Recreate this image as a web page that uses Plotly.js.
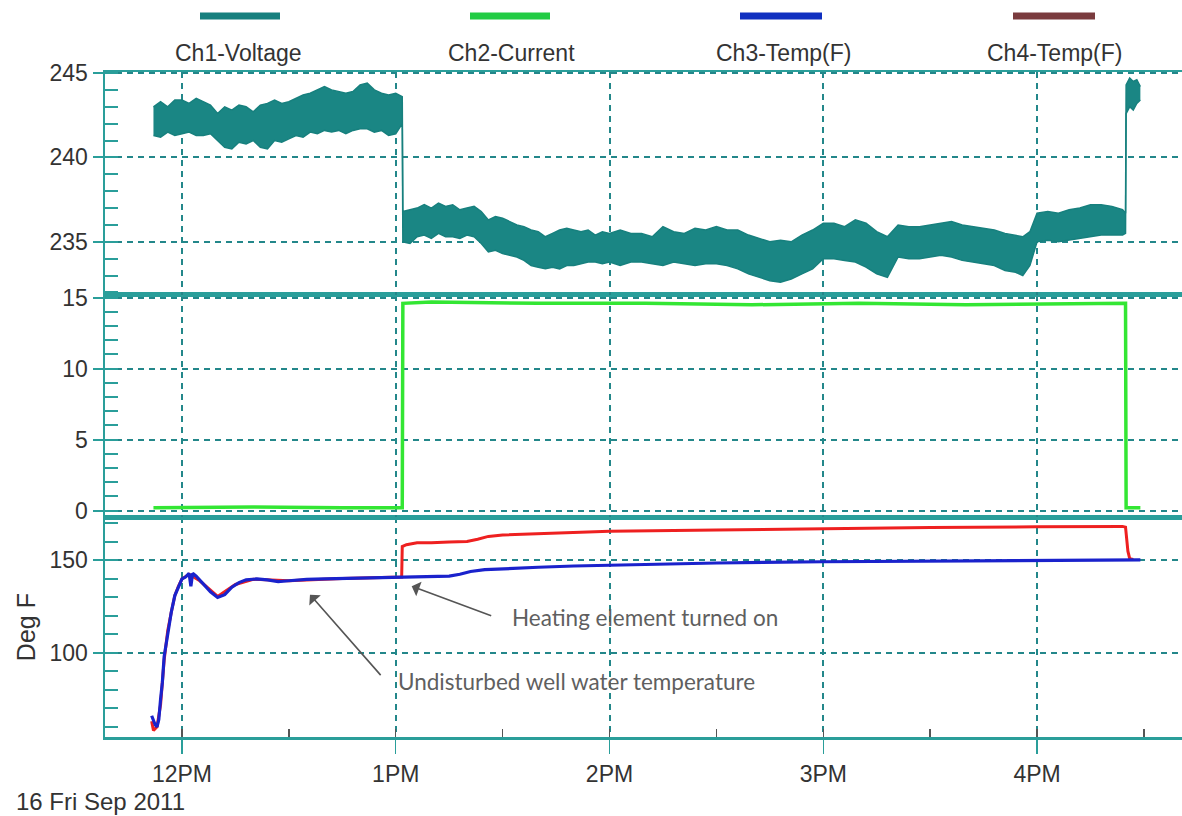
<!DOCTYPE html>
<html><head><meta charset="utf-8">
<script src="https://cdn.plot.ly/plotly-3.0.1.min.js"></script>
<style>html,body{margin:0;padding:0;background:#fff;}#chart{width:1182px;height:816px;}</style>
</head><body><div id="chart"></div>
<script>
const DAY = '2011-09-16 ';
const channelNames = ['Ch1-Voltage', 'Ch2-Current', 'Ch3-Temp(F)', 'Ch4-Temp(F)'];
const channelColors = ['#17807e', '#22cc44', '#1030c0', '#7a3b3e'];

// Ch1 voltage: the trace is a dense noisy band, read as upper / lower envelope
const voltTimes = ['11:52','11:54','11:56','11:58','12:00','12:02','12:04','12:06','12:08','12:10','12:12','12:14','12:16','12:18','12:20','12:22','12:24','12:26','12:28','12:30','12:32','12:34','12:36','12:38','12:40','12:42','12:44','12:46','12:48','12:50','12:52','12:54','12:56','12:58','13:00','13:01:50',
 '13:02','13:04','13:06','13:08','13:10','13:12','13:14','13:16','13:18','13:20','13:22','13:24','13:26','13:28','13:30','13:32','13:34','13:36','13:38','13:40','13:42','13:44','13:46','13:48','13:50','13:52','13:54','13:56','13:58','14:00','14:03','14:06','14:09','14:12','14:15','14:18','14:21','14:24','14:27','14:30','14:33','14:36','14:39','14:42','14:45','14:48','14:51','14:54','14:57','15:00','15:03','15:06','15:09','15:12','15:15','15:18','15:21','15:24','15:27','15:30','15:33','15:36','15:39','15:42','15:45','15:48','15:51','15:54','15:56','15:58','16:00','16:03','16:06','16:09','16:12','16:15','16:18','16:21','16:24','16:24:50',
 '16:25','16:26','16:27','16:28','16:29'];
const voltUpper = [243.0,243.3,243.0,243.4,243.4,243.2,243.5,243.3,243.1,242.6,243.0,242.8,243.1,243.0,242.7,243.1,243.2,243.4,243.2,243.3,243.5,243.7,243.8,244.0,244.2,244.0,243.9,243.8,243.9,244.3,244.4,244.0,243.8,243.7,243.8,243.6,
 236.8,236.9,237.0,237.2,237.0,237.3,237.1,237.2,236.9,237.0,237.1,236.8,236.3,236.5,236.4,236.2,236.0,235.9,235.7,235.6,235.3,235.5,235.7,235.8,235.7,235.6,235.7,235.4,235.6,235.5,235.7,235.5,235.5,235.3,235.9,235.6,235.5,235.8,235.7,235.9,235.7,235.7,235.4,235.2,235.0,235.1,235.0,235.4,235.7,236.1,236.1,235.9,236.3,236.1,235.6,235.3,236.0,235.9,235.9,236.0,236.1,236.2,236.0,235.9,235.8,235.7,235.5,235.4,235.3,235.6,236.7,236.8,236.7,236.9,237.0,237.2,237.2,237.1,236.9,236.7,
 244.3,244.7,244.5,244.6,244.2];
const voltLower = [241.3,241.2,241.5,241.3,241.4,241.5,241.3,241.3,241.4,241.0,240.6,240.5,240.9,240.8,241.0,240.6,240.5,241.0,240.9,241.1,241.3,241.2,241.5,241.4,241.6,241.5,241.6,241.4,241.6,241.7,241.7,241.5,241.6,241.3,241.4,242.0,
 235.0,234.9,235.3,235.4,235.2,235.5,235.3,235.3,235.2,235.4,235.3,234.9,234.4,234.5,234.3,234.2,234.1,233.9,233.6,233.5,233.4,233.5,233.4,233.6,233.6,233.7,233.8,233.8,233.7,233.8,233.6,233.8,233.8,233.7,233.6,233.8,233.7,233.6,233.7,233.7,233.6,233.4,233.1,232.9,232.7,232.6,232.8,233.1,233.4,234.0,234.0,233.9,233.8,233.5,233.1,232.9,234.1,234.0,234.0,234.1,234.2,234.1,233.9,233.8,233.7,233.6,233.3,233.2,233.0,233.6,235.0,235.1,235.0,235.1,235.2,235.3,235.4,235.4,235.4,235.5,
 242.6,243.0,242.8,243.2,243.4];

// Ch2 current (A)
const currTimes = ['11:52','12:20','12:45','13:01:50','13:02','13:10','13:40','14:10','14:40','15:10','15:40','16:10','16:24:50','16:25','16:29'];
const currValues = [0.2,0.25,0.2,0.2,14.6,14.7,14.6,14.6,14.5,14.6,14.5,14.6,14.6,0.2,0.2];

// Ch3 temperature (blue)
const ch3Times = ['11:51:30','11:52','11:52:30','11:53','11:53:30','11:54','11:54:30','11:55','11:55:30','11:56','11:57','11:58','11:59','12:00','12:01','12:02','12:02:30','12:03','12:04','12:06','12:08','12:10','12:12','12:14','12:16','12:18','12:21','12:24','12:27','12:30','12:35','12:40','12:45','12:50','12:55','13:00','13:05','13:10','13:15','13:18','13:21','13:25','13:30','13:40','13:50','14:00','14:15','14:30','15:00','15:30','16:00','16:25','16:29'];
const ch3Values = [66,63,61,60,64,75,84,98,104,112,122,131,136,140,141,143,136,143,141.5,137.5,133,130,131.5,135.5,138,139.5,140,139.5,138.5,139,139.8,140,140.2,140.5,140.8,141,140.8,141,141.5,142.5,144,145,145.5,146.3,147,147.5,148.2,148.6,149.3,149.6,150.2,150.5,150.3];

// Ch4 temperature (red)
const ch4Times = ['11:51:30','11:52','11:53','11:54','11:55','11:56','11:57','11:58','11:59','12:00','12:02','12:05','12:10','12:15','12:20','12:30','12:45','13:00','13:01:40','13:01:50','13:03','13:06','13:10','13:15','13:20','13:23','13:26','13:30','13:40','13:50','14:00','14:30','15:00','15:30','16:00','16:24','16:24:50','16:25:30','16:26','16:27'];
const ch4Values = [63,58,60,72,96,112,122,131,136,140,142.5,139,130.5,137,139.8,139,140.2,141,141,157.5,158.5,159.5,159.5,160,160.3,161.5,163,163.8,164.5,165.2,165.8,166.5,167.3,167.8,168.2,168.4,168,155,151,150.5];

const hourTicks = ['12:00','13:00','14:00','15:00','16:00'];
const hourLabels = ['12PM','1PM','2PM','3PM','4PM'];
const dateLabel = '16 Fri Sep 2011';
const tempTitle = 'Deg F';
const noteHeating = 'Heating element turned on';
const noteWell = 'Undisturbed well water temperature';

const X = a => a.map(t => DAY + t);

// ---- geometry ----
const W = 1182, H = 816, L = 105, R = 0, T = 72, B = 78.5;
const PW = W - L - R, PH = H - T - B;
const px = v => (v - L) / PW;
const py = v => (H - B - v) / PH;
const frame = '#2a9e9a', grid = '#23878a';
const FONT = 'Liberation Sans Narrow, Arial Narrow, Liberation Sans, Arial, sans-serif';
const tickFont = {family: FONT, size: 23, color: '#333'};

const traces = [
  {x: X(voltTimes), y: voltLower, xaxis: 'x3', yaxis: 'y', mode: 'lines', line: {color: channelColors[0], width: 1.5}, name: channelNames[0], showlegend: false, hoverinfo: 'skip'},
  {x: X(voltTimes), y: voltUpper, xaxis: 'x3', yaxis: 'y', mode: 'lines', line: {color: channelColors[0], width: 1.5}, fill: 'tonexty', fillcolor: '#1a8684', name: channelNames[0], showlegend: false},
  {x: X(currTimes), y: currValues, xaxis: 'x2', yaxis: 'y2', mode: 'lines', line: {color: '#33e633', width: 3.5}, name: channelNames[1], showlegend: false},
  {x: X(ch4Times), y: ch4Values, xaxis: 'x', yaxis: 'y3', mode: 'lines', line: {color: '#ee2020', width: 3}, name: channelNames[3], showlegend: false},
  {x: X(ch3Times), y: ch3Values, xaxis: 'x', yaxis: 'y3', mode: 'lines', line: {color: '#1a22cc', width: 3.2}, name: channelNames[2], showlegend: false}
];

const xRange = [DAY + '11:38:24', DAY + '16:40:41'];
const xBase = {
  type: 'date', range: xRange, showline: true, mirror: true, linecolor: frame, linewidth: 2.5,
  showgrid: true, gridcolor: grid, gridwidth: 2, griddash: '6px,5px',
  tickmode: 'array', tickvals: X(hourTicks), ticktext: hourLabels, zeroline: false
};
const yBase = {
  showline: true, linecolor: frame, linewidth: 2.5, showgrid: true, gridcolor: grid, gridwidth: 2,
  griddash: '6px,5px', zeroline: false, ticks: 'outside', ticklen: 10, tickcolor: frame, tickwidth: 2,
  tickfont: tickFont, fixedrange: true
};
const d1 = py(517.5), d2 = py(295);

const layout = {
  width: W, height: H, margin: {l: L, r: R, t: T, b: B}, paper_bgcolor: '#fff', plot_bgcolor: '#fff',
  showlegend: false,
  xaxis: Object.assign({}, xBase, {anchor: 'y3', ticks: 'outside', ticklen: 14, tickcolor: frame, tickwidth: 1.5,
    tickfont: tickFont, ticklabelstandoff: 1,
    minor: {ticks: 'inside', ticklen: 8, tickcolor: '#555', tickwidth: 1.5, dtick: 1800000, tick0: DAY + '00:00', showgrid: false}}),
  xaxis2: Object.assign({}, xBase, {anchor: 'y2', matches: 'x', showticklabels: false, ticks: ''}),
  xaxis3: Object.assign({}, xBase, {anchor: 'y', matches: 'x', showticklabels: false, ticks: ''}),
  yaxis: Object.assign({}, yBase, {domain: [d2, 1], range: [231.86, 245.06], tickvals: [235, 240, 245],
    minor: {ticks: 'inside', ticklen: 13, tickcolor: frame, tickwidth: 2, dtick: 1, showgrid: false}}),
  yaxis2: Object.assign({}, yBase, {domain: [d1, d2], range: [-0.46, 15.2], tickvals: [0, 5, 10, 15],
    minor: {ticks: 'inside', ticklen: 13, tickcolor: frame, tickwidth: 2, dtick: 1, showgrid: false}}),
  yaxis3: Object.assign({}, yBase, {domain: [0, d1], range: [54.5, 173.4], tickvals: [100, 150],
    title: {text: tempTitle, font: {family: FONT, size: 25, color: '#333'}, standoff: 7},
    minor: {ticks: 'inside', ticklen: 13, tickcolor: frame, tickwidth: 2, dtick: 10, showgrid: false}}),
  shapes: [],
  annotations: []
};

// custom legend: swatch on top, name underneath
const swatchX = [[200, 280], [470, 550], [740, 822], [1013, 1095]];
const labelX = [238, 511, 783, 1054];
channelNames.forEach((n, i) => {
  layout.shapes.push({type: 'line', xref: 'paper', yref: 'paper', x0: px(swatchX[i][0]), x1: px(swatchX[i][1]), y0: py(16), y1: py(16),
    line: {color: channelColors[i], width: 7}});
  layout.annotations.push({xref: 'paper', yref: 'paper', x: px(labelX[i]), y: py(53), text: n, showarrow: false,
    xanchor: 'center', yanchor: 'middle', font: {family: FONT, size: 23, color: '#333'}});
});

layout.annotations.push({xref: 'paper', yref: 'paper', x: px(14), y: py(802), text: dateLabel, showarrow: false,
  xanchor: 'left', yanchor: 'middle', font: {family: FONT, size: 24, color: '#333'}});

const noteFont = {family: 'Lato, Noto Sans, sans-serif', size: 22.5, color: '#5f5f5f'};
layout.annotations.push({xref: 'paper', yref: 'paper', x: px(510), y: py(618), text: noteHeating, showarrow: false,
  xanchor: 'left', yanchor: 'middle', font: noteFont});
layout.annotations.push({xref: 'paper', yref: 'paper', x: px(396), y: py(682), text: noteWell, showarrow: false,
  xanchor: 'left', yanchor: 'middle', font: noteFont});
layout.annotations.push({xref: 'x', yref: 'y3', x: DAY + '13:04:29', y: 136.0, text: '', showarrow: true,
  ax: 81, ay: 30, arrowhead: 1, arrowsize: 1.6, arrowwidth: 1.6, arrowcolor: '#555'});
layout.annotations.push({xref: 'x', yref: 'y3', x: DAY + '12:35:56', y: 131.5, text: '', showarrow: true,
  ax: 72, ay: 82, arrowhead: 1, arrowsize: 1.6, arrowwidth: 1.6, arrowcolor: '#555'});

Plotly.newPlot('chart', traces, layout, {displayModeBar: false, staticPlot: true});
</script></body></html>
